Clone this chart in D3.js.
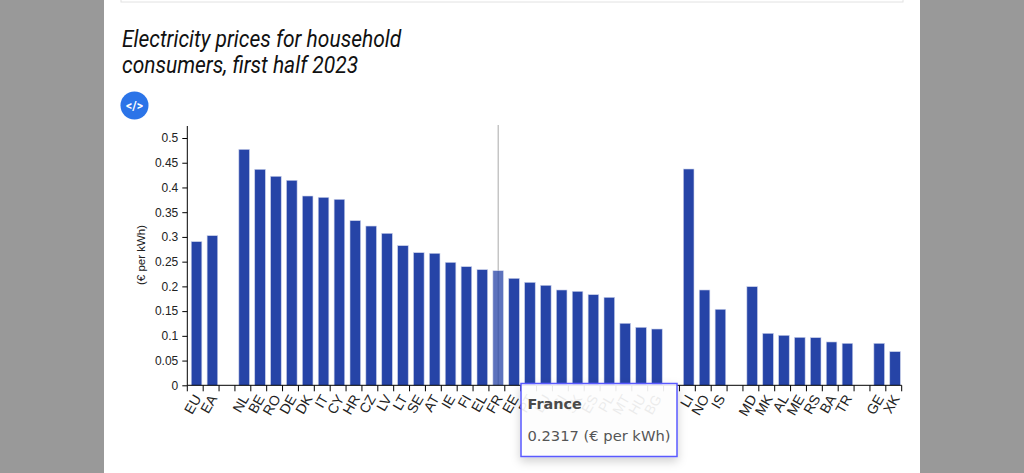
<!DOCTYPE html>
<html>
<head>
<meta charset="utf-8">
<script src="https://cdn.jsdelivr.net/npm/d3@7"></script>
<style>
  html, body { margin: 0; padding: 0; background: #999; overflow: hidden; }
  .x-axis text, .y-axis text { font-family: "Liberation Sans", Arial, sans-serif; fill: #222; }
</style>
</head>
<body>
<div id="chart"></div>
<script>
// Chart data
var categories = ["EU", "EA", "", "NL", "BE", "RO", "DE", "DK", "IT", "CY", "HR", "CZ", "LV", "LT", "SE", "AT", "IE", "FI", "EL", "FR", "EE", "PT", "LU", "SI", "SK", "ES", "PL", "MT", "HU", "BG", "", "LI", "NO", "IS", "", "MD", "MK", "AL", "ME", "RS", "BA", "TR", "", "GE", "XK"];
var prices = [0.2904, 0.3025, null, 0.477, 0.4367, 0.4226, 0.4145, 0.3827, 0.38, 0.376, 0.3328, 0.322, 0.3073, 0.2823, 0.2681, 0.2669, 0.2486, 0.2398, 0.2338, 0.2317, 0.2163, 0.2082, 0.2022, 0.1927, 0.19, 0.1832, 0.1779, 0.1254, 0.1173, 0.1138, null, 0.4373, 0.1927, 0.1537, null, 0.1994, 0.1051, 0.1011, 0.097, 0.0963, 0.0876, 0.0849, null, 0.0849, 0.068];
var yTicks = [0, 0.05, 0.1, 0.15, 0.2, 0.25, 0.3, 0.35, 0.4, 0.45, 0.5];
var titleLines = ["Electricity prices for household", "consumers, first half 2023"];
var yLabel = "(€ per kWh)";
var tooltipName = "France";
var tooltipValue = "0.2317 (€ per kWh)";
var activeCode = "FR";

// Set up page
var svgWidth = 1024;
var svgHeight = 473;

var svg = d3.select("#chart")
  .append("svg")
  .attr("width", svgWidth)
  .attr("height", svgHeight)
  .style("display", "block");

svg.append("rect")
  .attr("x", 104).attr("y", 0)
  .attr("width", 816).attr("height", svgHeight)
  .attr("fill", "#fff");

// Box left over from the section above
svg.append("rect")
  .attr("x", 121).attr("y", -10)
  .attr("width", 782).attr("height", 12)
  .attr("fill", "#fff")
  .attr("stroke", "#e2e2e2");

// Title
svg.append("g").selectAll("text")
  .data(titleLines)
  .enter()
  .append("text")
  .attr("x", 0)
  .attr("y", 0)
  .attr("transform", (d, i) => `translate(122, ${47 + i * 25.5}) scale(0.875, 1)`)
  .style("font-family", "Roboto")
  .style("font-style", "italic")
  .style("font-size", "24px")
  .attr("fill", "#111")
  .text(d => d);

// Embed button
svg.append("circle")
  .attr("cx", 134.5).attr("cy", 105.5).attr("r", 14)
  .attr("fill", "#2b74e8");
svg.append("text")
  .attr("x", 134.5).attr("y", 109.5)
  .attr("text-anchor", "middle")
  .style("font-family", "Roboto")
  .style("font-weight", "bold")
  .style("font-size", "12px")
  .attr("fill", "#fff")
  .text("</>");

// Scales
var left = 187.3, right = 901.7, top_ = 126, bottom = 385.3;

var x = d3.scaleBand()
  .domain(d3.range(categories.length))
  .range([left, right]);

var y = d3.scaleLinear()
  .domain([0, 0.5])
  .range([bottom, 138]);

// Cursor line
var activeIndex = categories.indexOf(activeCode);
var barOffset = 1.3;
svg.append("line")
  .attr("x1", x(activeIndex) + x.step() / 2 + barOffset)
  .attr("x2", x(activeIndex) + x.step() / 2 + barOffset)
  .attr("y1", top_ - 1).attr("y2", bottom)
  .attr("stroke", "#aaa")
  .attr("stroke-width", 1);

// Bars
var barWidth = 10.6;
svg.append("g").selectAll("rect")
  .data(prices.map((d, i) => ({ value: d, index: i })).filter(d => d.value !== null))
  .enter()
  .append("rect")
  .attr("x", d => x(d.index) + (x.step() - barWidth) / 2 + barOffset)
  .attr("y", d => y(d.value))
  .attr("width", barWidth)
  .attr("height", d => bottom - y(d.value))
  .attr("fill", "#2644a7")
  .attr("stroke", "#c9d0ea")
  .attr("stroke-width", 0.6)
  .attr("opacity", d => d.index === activeIndex ? 0.75 : 1);

// Axes
var bottomAxis = d3.axisBottom(x)
  .tickFormat(i => categories[i])
  .tickSizeOuter(0);

var xAxis = svg.append("g")
  .attr("class", "x-axis")
  .attr("transform", `translate(0, ${bottom})`)
  .call(bottomAxis);

// Ticks sit on the left edge of each band
xAxis.selectAll(".tick line")
  .attr("x1", -x.step() / 2)
  .attr("x2", -x.step() / 2)
  .attr("y2", 6)
  .attr("stroke", "#000");

xAxis.append("line")
  .attr("x1", right).attr("x2", right)
  .attr("y1", 0).attr("y2", 6)
  .attr("stroke", "#000");

xAxis.select(".domain")
  .attr("stroke", "#000")
  .attr("d", `M${left},0H${right}`);

xAxis.selectAll(".tick text")
  .attr("x", 0)
  .attr("y", 0)
  .attr("dy", 0)
  .attr("text-anchor", "end")
  .attr("transform", "translate(6.5, 13) rotate(-60)")
  .style("font-size", "14px")
  .attr("fill", "#222");

var leftAxis = d3.axisLeft(y)
  .tickValues(yTicks)
  .tickFormat(d => String(d))
  .tickSize(5)
  .tickPadding(4);

var yAxis = svg.append("g")
  .attr("class", "y-axis")
  .attr("transform", `translate(${left}, 0)`)
  .call(leftAxis);

yAxis.select(".domain")
  .attr("stroke", "#000")
  .attr("d", `M0,${top_}V${bottom}`);

yAxis.selectAll(".tick line").attr("stroke", "#000");
yAxis.selectAll(".tick text").style("font-size", "12px");

svg.append("text")
  .attr("transform", "translate(145, 255) rotate(-90)")
  .attr("text-anchor", "middle")
  .style("font-family", "'Liberation Sans', Arial, sans-serif")
  .style("font-size", "11.5px")
  .attr("fill", "#222")
  .text(yLabel);

// Tooltip
var defs = svg.append("defs");
var shadow = defs.append("filter")
  .attr("id", "tip-shadow")
  .attr("x", "-20%").attr("y", "-20%")
  .attr("width", "140%").attr("height", "150%");
shadow.append("feDropShadow")
  .attr("dx", 0).attr("dy", 4)
  .attr("stdDeviation", 5)
  .attr("flood-color", "#000")
  .attr("flood-opacity", 0.2);

var tip = svg.append("g").attr("transform", "translate(521, 383.5)");

tip.append("rect")
  .attr("width", 156).attr("height", 73)
  .attr("fill", "#fff")
  .attr("fill-opacity", 0.9)
  .attr("stroke", "#5a5aff")
  .attr("stroke-width", 1.5)
  .attr("filter", "url(#tip-shadow)");

tip.append("text")
  .attr("x", 6.5).attr("y", 25)
  .style("font-family", "'DejaVu Sans'")
  .style("font-weight", "bold")
  .style("font-size", "14.4px")
  .attr("fill", "#4a4a4a")
  .text(tooltipName);

tip.append("text")
  .attr("x", 6.5).attr("y", 57.5)
  .style("font-family", "'DejaVu Sans'")
  .style("font-size", "14.7px")
  .attr("fill", "#555")
  .text(tooltipValue);
</script>
</body>
</html>
